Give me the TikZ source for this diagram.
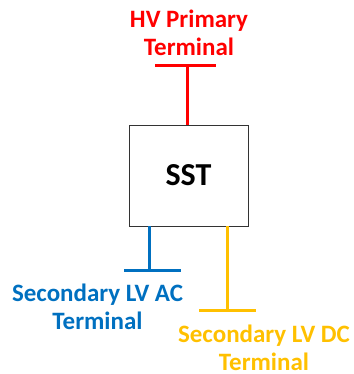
\documentclass[tikz,border=0pt]{standalone}
\usepackage{fontspec}
\setmainfont{Carlito}
\usetikzlibrary{positioning}

\definecolor{hvred}{RGB}{255,0,0}
\definecolor{acblue}{RGB}{0,112,192}
\definecolor{dcgold}{RGB}{255,192,0}

\begin{document}
\begin{tikzpicture}[
  x=1pt, y=1pt,
  wire/.style={line width=3pt},
  label/.style={align=center, inner sep=0pt, font=\fontsize{25}{28.5}\selectfont\bfseries},
  sstbox/.style={draw=black!80, line width=0.9pt, fill=white, minimum width=119pt, minimum height=101pt, font=\fontsize{32}{36}\selectfont\bfseries}
]
\useasboundingbox (0,0) rectangle (353,-374);

% converter box
\node[sstbox] (sst) at (188.5,-175.5) {SST};

% HV primary terminal
\node[label, text=hvred] (hv) at (189,-33) {HV Primary\\Terminal};
\coordinate (hvL) at (155,-66);
\coordinate (hvR) at (216,-66);
\coordinate (hvT) at (187,-66);
\draw[wire, hvred] (hvL) -- (hvR);
\draw[wire, hvred] (hvT) -- (hvT |- sst.north);

% LV AC terminal
\node[label, text=acblue] (ac) at (97.5,-307) {Secondary LV AC\\Terminal};
\coordinate (acL) at (124,-270);
\coordinate (acR) at (181,-270);
\coordinate (acT) at (149,-270);
\draw[wire, acblue] (acL) -- (acR);
\draw[wire, acblue] (acT) -- (acT |- sst.south);

% LV DC terminal
\node[label, text=dcgold] (dc) at (264,-348) {Secondary LV DC\\Terminal};
\coordinate (dcL) at (199,-310);
\coordinate (dcR) at (256,-310);
\coordinate (dcT) at (227,-310);
\draw[wire, dcgold] (dcL) -- (dcR);
\draw[wire, dcgold] (dcT) -- (dcT |- sst.south);

\end{tikzpicture}
\end{document}
